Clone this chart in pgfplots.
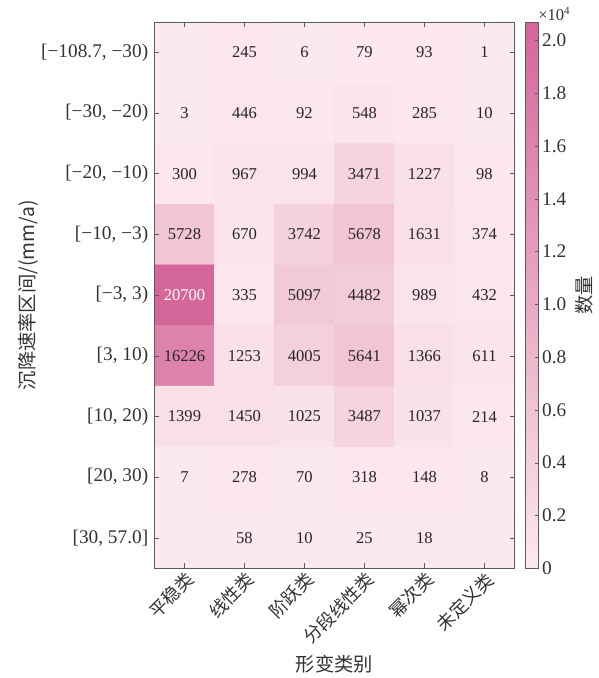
\documentclass[border=0pt]{standalone}
\usepackage{pgfplots}
\pgfplotsset{compat=1.18}
\usepackage{fontspec}
\setmainfont{Liberation Serif}
\newfontfamily\cjk{Noto Sans CJK SC}
\definecolor{axgray}{RGB}{90,90,90}
\begin{document}
\begin{tikzpicture}
\begin{axis}[
  scale only axis,
  axis on top,
  width=261pt, height=396pt,
  xmin=-0.5, xmax=5.5, ymin=-0.5, ymax=8.5,
  y dir=reverse,
  axis line style={axgray, line width=0.6pt},
  tick style={axgray, line width=0.5pt},
  major tick length=3.5pt,
  tick align=inside,
  xtick={0,1,2,3,4,5},
  xticklabels={平稳类,线性类,阶跃类,分段线性类,幂次类,未定义类},
  xticklabel style={font=\cjk\fontsize{13}{14}\selectfont, rotate=45, anchor=north east, inner sep=1pt, color=black!80},
  ytick={0,1,2,3,4,5,6,7,8},
  yticklabels={{[−108.7, −30)},{[−30, −20)},{[−20, −10)},{[−10, −3)},{[−3, 3)},{[3, 10)},{[10, 20)},{[20, 30)},{[30, 57.0]}},
  yticklabel style={font=\fontsize{14}{16}\selectfont, color=black!80, xshift=-1pt},
  xlabel={形变类别},
  ylabel={沉降速率区间/(mm/a)},
  xlabel style={font=\cjk\fontsize{14}{16}\selectfont, color=black!80, yshift=-2pt},
  ylabel style={font=\cjk\fontsize{14}{16}\selectfont, color=black!80, yshift=-5pt},
  colormap={pinkmap}{rgb255=(252,233,237) rgb255=(213,102,153)},
  point meta min=0, point meta max=20700,
  colorbar right,
  colorbar style={
    width=9.5pt,
    at={(parent axis.north east)}, anchor=north west, xshift=-0.5pt,
    axis line style={axgray, line width=0.6pt},
    ytick={0,2000,4000,6000,8000,10000,12000,14000,16000,18000,20000},
    yticklabels={0,0.2,0.4,0.6,0.8,1.0,1.2,1.4,1.6,1.8,2.0},
    yticklabel style={font=\fontsize{14}{16}\selectfont, color=black!80, xshift=-1pt},
    ytick pos=right, tick align=inside, major tick length=3pt,
    tick style={axgray},
    scaled y ticks=false,
    ylabel={数量},
    ylabel style={font=\cjk\fontsize{14}{16}\selectfont, color=black!80},
    extra description/.code={\node[anchor=south west, font=\fontsize{12}{13}\selectfont, color=black!80, inner sep=1pt] at (rel axis cs:0.85,1.0) {×10\textsuperscript{4}};},
  },
]
\coordinate (tl) at (rel axis cs:0,1);
\addplot[matrix plot*, mesh/cols=6, mesh/rows=9, point meta=explicit] table[meta=c] {
x y c
0 0 0
1 0 245
2 0 6
3 0 79
4 0 93
5 0 1
0 1 3
1 1 446
2 1 92
3 1 548
4 1 285
5 1 10
0 2 300
1 2 967
2 2 994
3 2 3471
4 2 1227
5 2 98
0 3 5728
1 3 670
2 3 3742
3 3 5678
4 3 1631
5 3 374
0 4 20700
1 4 335
2 4 5097
3 4 4482
4 4 989
5 4 432
0 5 16226
1 5 1253
2 5 4005
3 5 5641
4 5 1366
5 5 611
0 6 1399
1 6 1450
2 6 1025
3 6 3487
4 6 1037
5 6 214
0 7 7
1 7 278
2 7 70
3 7 318
4 7 148
5 7 8
0 8 0
1 8 58
2 8 10
3 8 25
4 8 18
5 8 0
};
\addplot[only marks, mark=none, point meta=explicit symbolic, nodes near coords,
  nodes near coords style={anchor=center, font=\fontsize{12}{14}\selectfont, color=black!85}] table[meta=lab] {
x y lab
1 0 245
2 0 6
3 0 79
4 0 93
5 0 1
0 1 3
1 1 446
2 1 92
3 1 548
4 1 285
5 1 10
0 2 300
1 2 967
2 2 994
3 2 3471
4 2 1227
5 2 98
0 3 5728
1 3 670
2 3 3742
3 3 5678
4 3 1631
5 3 374
1 4 335
2 4 5097
3 4 4482
4 4 989
5 4 432
0 5 16226
1 5 1253
2 5 4005
3 5 5641
4 5 1366
5 5 611
0 6 1399
1 6 1450
2 6 1025
3 6 3487
4 6 1037
5 6 214
0 7 7
1 7 278
2 7 70
3 7 318
4 7 148
5 7 8
1 8 58
2 8 10
3 8 25
4 8 18
};
\addplot[only marks, mark=none, point meta=explicit symbolic, nodes near coords,
  nodes near coords style={anchor=center, font=\fontsize{12}{14}\selectfont, color=white}] table[meta=lab] {
x y lab
0 4 20700
};
\end{axis}
\path (tl) ++(0,16pt);
\path (tl) ++(-112pt,0);
\end{tikzpicture}
\end{document}
